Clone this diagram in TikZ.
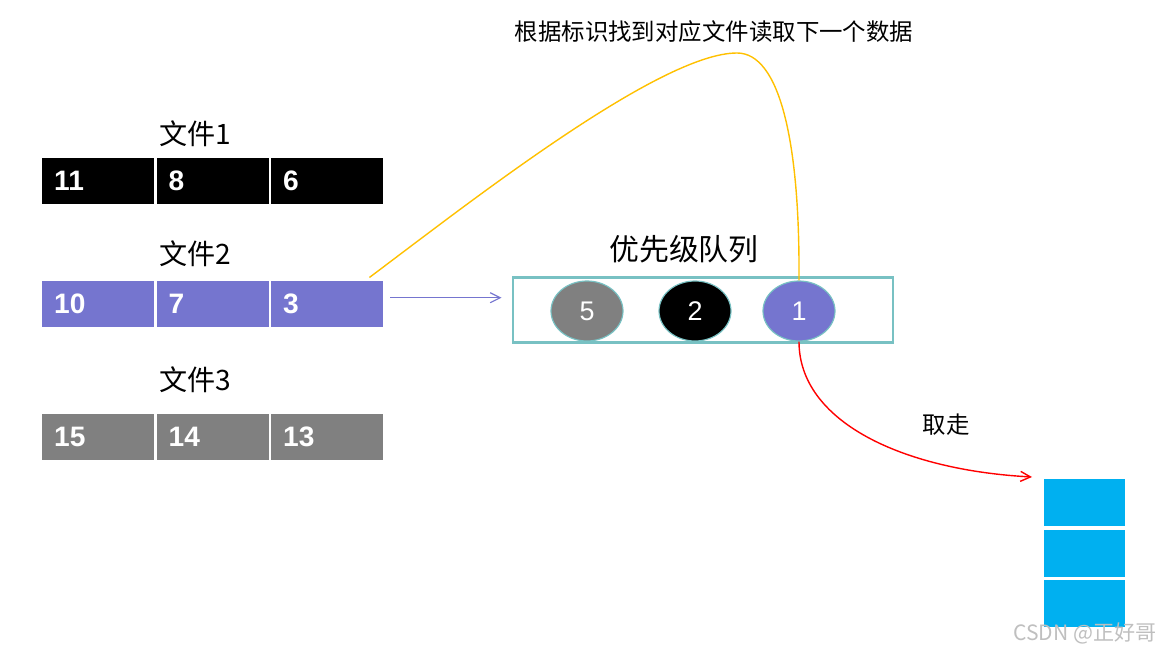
\documentclass[tikz,border=0pt]{standalone}
\usepackage{fontspec}
\setmainfont{Liberation Sans}
\newfontfamily\cjk{Noto Sans CJK SC}
\usepackage{tikz}
\usetikzlibrary{positioning, shapes.geometric, arrows.meta}
\definecolor{filepurple}{RGB}{117,117,207}
\definecolor{filegray}{RGB}{128,128,128}
\definecolor{queueteal}{RGB}{120,193,195}
\definecolor{lineyellow}{RGB}{255,192,0}
\definecolor{stackblue}{RGB}{0,176,240}
\tikzstyle{arrow} = [->, >={Straight Barb[length=0.3cm, width=0.3cm]}]

\begin{document}
\begin{tikzpicture}[x=0.03cm, y=-0.03cm, node distance=0.06cm,
    cell/.style={rectangle, fill=#1, text=white, minimum width=3.36cm, minimum height=1.38cm, text width=2.64cm, inner xsep=0.36cm, align=left, font=\fontsize{24}{26}\selectfont\bfseries},
    item/.style={ellipse, draw=queueteal, line width=1pt, fill=#1, text=white, minimum width=2.16cm, minimum height=1.8cm, font=\fontsize{23}{26}\selectfont},
    slot/.style={rectangle, fill=stackblue, minimum width=2.43cm, minimum height=1.41cm},
    label/.style={font=\cjk\fontsize{24}{26}\selectfont}]

    \useasboundingbox (0,0) rectangle (1165,654);

    % Left column (files)
    \node[cell=black, anchor=north west] (c11) at (42,158) {11};
    \node[cell=black, right=of c11] (c12) {8};
    \node[cell=black, right=of c12] (c13) {6};
    \node[cell=filepurple, below=2.28cm of c11] (c21) {10};
    \node[cell=filepurple, right=of c21] (c22) {7};
    \node[cell=filepurple, right=of c22] (c23) {3};
    \node[cell=filegray, below=2.61cm of c21] (c31) {15};
    \node[cell=filegray, right=of c31] (c32) {14};
    \node[cell=filegray, right=of c32] (c33) {13};

    % File labels
    \node[label] (f1) at (195,134) {文件1};
    \node[label] (f2) at (195,254) {文件2};
    \node[label] (f3) at (195,380) {文件3};

    % Priority queue
    \node[rectangle, draw=queueteal, line width=2.5pt, minimum width=11.4cm, minimum height=1.95cm] (queue) at (703,310) {};
    \node[font=\cjk\fontsize{25.5}{28}\selectfont] (title) at (684,249) {优先级队列};
    \node[item=filegray] (q5) at (587,311) {5};
    \node[item=black] (q2) at (695,311) {2};
    \node[item=filepurple] (q1) at (799,311) {1};

    % Output stack
    \node[slot, anchor=north west] (s1) at (1044,479) {};
    \node[slot, below=0.09cm of s1] (s2) {};
    \node[slot, below=0.09cm of s2] (s3) {};

    % Arrows
    \coordinate (push) at ([xshift=0.21cm, yshift=0.18cm]c23.east);
    \draw[arrow, filepurple, line width=1pt] (push) -- ([xshift=-0.3cm]push -| queue.west);
    \draw[lineyellow, line width=1.2pt] ([xshift=-0.42cm, yshift=0.09cm]c23.north east)
        .. controls +(100,-75) and +(-77,0) .. (737,53)
        .. controls +(43,0) and +(1,-138) .. (q1.north);
    \draw[arrow, red, line width=1.2pt] (q1.south) .. controls +(0,80) and +(-130,-7) .. ([xshift=-0.36cm, yshift=0.06cm]s1.north west);

    % Texts
    \node[font=\cjk\fontsize{20}{22}\selectfont] (note) at (714,32) {根据标识找到对应文件读取下一个数据};
    \node[font=\cjk\fontsize{20}{22}\selectfont] (take) at (946,425) {取走};
    \node[font=\cjk\fontsize{18}{20}\selectfont, text=black!25] (mark) at (1085,633) {CSDN @正好哥};

\end{tikzpicture}
\end{document}
